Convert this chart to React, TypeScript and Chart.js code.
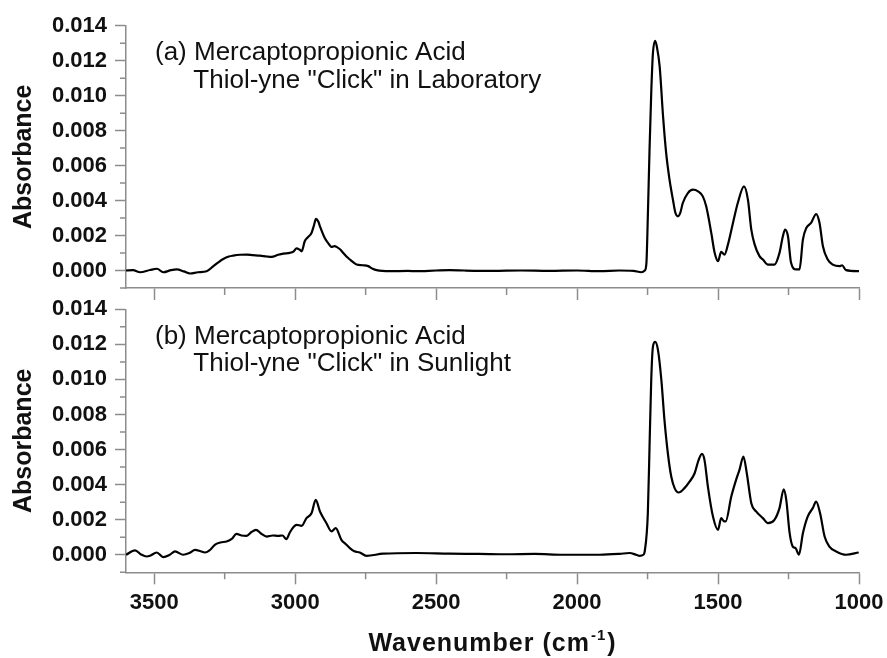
import React, { useEffect, useRef } from 'react';
import { Chart, registerables } from 'chart.js';

Chart.register(...registerables);

// ---------- data ----------
const WN_A = [
  3600, 3575, 3550, 3515, 3490, 3468, 3440, 3420, 3395, 3373, 3345, 3314, 3290, 3270, 3255, 3235, 3220, 3195, 3172, 3150,
  3125, 3100, 3084, 3060, 3042, 3019, 3005, 2995, 2985, 2977, 2966, 2955, 2942, 2933, 2926, 2918, 2912, 2895, 2880, 2871,
  2860, 2853, 2840, 2830, 2818, 2806, 2790, 2782, 2760, 2741, 2725, 2711, 2664, 2600, 2570, 2500, 2452, 2400, 2300, 2200,
  2100, 2000, 1920, 1850, 1800, 1772, 1760, 1754, 1749, 1743, 1737, 1731, 1723, 1717, 1707, 1695, 1684, 1672, 1660, 1651,
  1642, 1634, 1625, 1607, 1589, 1571, 1554, 1542, 1524, 1512, 1500, 1489, 1477, 1465, 1447, 1430, 1408, 1394, 1382, 1370,
  1353, 1341, 1323, 1300, 1282, 1270, 1262, 1252, 1241, 1223, 1211, 1199, 1187, 1170, 1152, 1140, 1128, 1111, 1093, 1069,
  1060, 1046, 1000,
];
const ABS_A = [
  0.0, 0.00002, -0.0001, 0.00003, 0.0001, -0.0001, 0.00002, 0.00006, -0.00005, -0.00017, -0.0001, -0.00004, 0.00025, 0.0005, 0.00066, 0.0008, 0.00085, 0.0009, 0.00091, 0.00088,
  0.00085, 0.0008, 0.00078, 0.0009, 0.00097, 0.00101, 0.0011, 0.00127, 0.0012, 0.0011, 0.00167, 0.0019, 0.00215, 0.0026, 0.00295, 0.0028, 0.00253, 0.00186, 0.0015, 0.00135,
  0.0014, 0.00135, 0.0012, 0.00101, 0.0008, 0.00063, 0.00042, 0.00034, 0.0003, 0.00025, 0.0001, 0.00002, -0.00004, -0.00002, -0.00004, 0.0, 0.00002, 0.0, -0.00002, 0.0,
  -0.00002, 0.0, -0.00004, 0.0, -0.00002, -0.0001, 0.0, 0.00044, 0.0031, 0.0069, 0.01014, 0.01242, 0.01314, 0.0128, 0.01166, 0.00881, 0.00671, 0.00519, 0.00405, 0.00329,
  0.0031, 0.00329, 0.00386, 0.00443, 0.00462, 0.00453, 0.00424, 0.00367, 0.00215, 0.00101, 0.00053, 0.00107, 0.00091, 0.00148, 0.00272, 0.00386, 0.00481, 0.00405, 0.00234, 0.00148,
  0.00082, 0.00063, 0.00034, 0.00034, 0.00101, 0.00196, 0.00234, 0.00196, 0.00044, 0.00006, 0.00006, 0.00177, 0.00243, 0.00272, 0.00323, 0.00272, 0.00139, 0.00063, 0.00034, 0.00025,
  0.0003, 0.00002, -0.00004,
];

const WN_B = [
  3600, 3568, 3545, 3527, 3515, 3491, 3468, 3445, 3426, 3397, 3375, 3355, 3335, 3320, 3300, 3285, 3265, 3243, 3225, 3208,
  3190, 3172, 3155, 3139, 3120, 3101, 3080, 3060, 3045, 3031, 3019, 3005, 2995, 2977, 2960, 2942, 2927, 2912, 2889, 2871,
  2856, 2836, 2820, 2806, 2790, 2771, 2747, 2688, 2570, 2452, 2350, 2250, 2150, 2050, 1950, 1920, 1850, 1814, 1790, 1778,
  1765, 1760, 1749, 1743, 1737, 1731, 1723, 1713, 1701, 1690, 1678, 1666, 1654, 1640, 1619, 1601, 1583, 1569, 1557, 1548,
  1536, 1518, 1500, 1489, 1478, 1473, 1453, 1436, 1424, 1410, 1398, 1382, 1365, 1341, 1323, 1300, 1282, 1267, 1258, 1246,
  1235, 1225, 1213, 1199, 1182, 1164, 1152, 1138, 1122, 1105, 1081, 1046, 1001,
];
const ABS_B = [
  0.0, 0.00025, 0.0, -0.0001, -0.00006, 0.00013, -0.00013, 0.0, 0.00019, 0.0, 0.0001, 0.00028, 0.0002, 0.00013, 0.0003, 0.00057, 0.0007, 0.00076, 0.0009, 0.00119,
  0.0011, 0.00108, 0.0013, 0.00142, 0.0012, 0.00104, 0.0011, 0.00108, 0.0011, 0.00089, 0.00127, 0.0016, 0.00171, 0.00165, 0.00209, 0.00237, 0.00313, 0.00247, 0.0018, 0.00133,
  0.00152, 0.00085, 0.0006, 0.00038, 0.0002, 0.00013, -0.00006, 0.00006, 0.0001, 0.00006, 0.00005, 0.00003, 0.00005, 0.0, 0.0, 0.0, 0.00005, 0.0001, 0.0, -0.00006,
  0.0, 0.0002, 0.00237, 0.00616, 0.00996, 0.01186, 0.01214, 0.01167, 0.00996, 0.00768, 0.00579, 0.00446, 0.0038, 0.00355, 0.0038, 0.00417, 0.00465, 0.0054, 0.00575, 0.0054,
  0.00389, 0.00218, 0.00142, 0.00209, 0.0019, 0.0019, 0.00332, 0.00427, 0.00484, 0.0056, 0.00465, 0.00294, 0.00247, 0.00209, 0.0018, 0.00199, 0.00266, 0.00373, 0.00313, 0.00123,
  0.00047, 0.00038, 0.0, 0.00123, 0.00218, 0.00266, 0.00303, 0.00237, 0.00104, 0.00047, 0.00019, 0.0, 0.00013,
];

const X_TICKS = [3500, 3000, 2500, 2000, 1500, 1000];
const X_MINOR = [3250, 2750, 2250, 1750, 1250];
const Y_TICKS = [0, 0.002, 0.004, 0.006, 0.008, 0.01, 0.012, 0.014];
const Y_MINOR = [-0.001, 0.001, 0.003, 0.005, 0.007, 0.009, 0.011, 0.013];

const LABEL_A = ['(a) Mercaptopropionic Acid', 'Thiol-yne "Click" in Laboratory'];
const LABEL_B = ['(b) Mercaptopropionic Acid', 'Thiol-yne "Click" in Sunlight'];
const Y_TITLE = 'Absorbance';
const X_TITLE_MAIN = 'Wavenumber (cm';
const X_TITLE_SUP = '-1';
const X_TITLE_END = ')';

// ---------- styles ----------
const FAMILY = '"Liberation Sans", Arial, Helvetica, sans-serif';
const AXIS = '#8c8c8c';
const TEXT = '#111111';

const minorTicks = {
  id: 'minorTicks',
  afterDraw(chart: any) {
    const ctx = chart.ctx;
    const xs = chart.scales.x;
    const ys = chart.scales.y;
    ctx.save();
    ctx.strokeStyle = AXIS;
    ctx.lineWidth = 1.5;
    ctx.beginPath();
    for (const v of X_MINOR) {
      const px = xs.getPixelForValue(v);
      ctx.moveTo(px, xs.top);
      ctx.lineTo(px, xs.top + 7);
    }
    for (const v of Y_MINOR) {
      const py = ys.getPixelForValue(v);
      ctx.moveTo(ys.right - 6, py);
      ctx.lineTo(ys.right, py);
    }
    ctx.stroke();
    ctx.restore();
  },
};

const annot = {
  id: 'annot',
  afterDraw(chart: any, _args: any, opts: any) {
    const lines: string[] = opts.lines || [];
    const a = chart.chartArea;
    const ctx = chart.ctx;
    ctx.save();
    ctx.font = `26px ${FAMILY}`;
    ctx.fillStyle = TEXT;
    ctx.textAlign = 'left';
    ctx.textBaseline = 'alphabetic';
    if (lines[0]) ctx.fillText(lines[0], a.left + 29, a.top + 34.5);
    if (lines[1]) ctx.fillText(lines[1], a.left + 67.3, a.top + 62);
    ctx.restore();
  },
};

const xTitle = {
  id: 'xTitle',
  afterDraw(chart: any, _args: any, opts: any) {
    if (!opts.show) return;
    const ctx = chart.ctx;
    const a = chart.chartArea;
    const cx = (a.left + a.right) / 2;
    const base = chart.height - 7;
    ctx.save();
    ctx.fillStyle = TEXT;
    ctx.textBaseline = 'alphabetic';
    ctx.textAlign = 'left';
    const mainFont = `bold 25px ${FAMILY}`;
    const supFont = `bold 15px ${FAMILY}`;
    try { (ctx as any).letterSpacing = '1px'; } catch (e) { /* ignore */ }
    ctx.font = mainFont;
    const w1 = ctx.measureText(X_TITLE_MAIN).width;
    const w3 = ctx.measureText(X_TITLE_END).width;
    ctx.font = supFont;
    const w2 = ctx.measureText(X_TITLE_SUP).width;
    let x = cx - (w1 + w2 + w3 + 2) / 2;
    ctx.font = mainFont;
    ctx.fillText(X_TITLE_MAIN, x, base);
    x += w1 + 1;
    ctx.font = supFont;
    ctx.fillText(X_TITLE_SUP, x, base - 11);
    x += w2 + 1;
    ctx.font = mainFont;
    ctx.fillText(X_TITLE_END, x, base);
    try { (ctx as any).letterSpacing = '0px'; } catch (e) { /* ignore */ }
    ctx.restore();
  },
};

function makeConfig(wn: number[], ab: number[], lines: string[], bottom: boolean): any {
  const tickFont = { family: FAMILY, size: 22, weight: 'bold' as const };
  return {
    type: 'line',
    data: {
      datasets: [
        {
          data: wn.map((w, i) => ({ x: w, y: ab[i] })),
          borderColor: '#000000',
          borderWidth: 2.2,
          pointRadius: 0,
          fill: false,
          cubicInterpolationMode: 'monotone',
        },
      ],
    },
    options: {
      responsive: false,
      animation: false,
      devicePixelRatio: 1,
      layout: { padding: { top: bottom ? 29.3 : 25.7, right: 28, left: 0, bottom: 0 } },
      plugins: {
        legend: { display: false },
        tooltip: { enabled: false },
        annot: { lines },
        xTitle: { show: bottom },
      },
      scales: {
        x: {
          type: 'linear',
          min: 1000,
          max: 3600,
          reverse: true,
          afterBuildTicks: (s: any) => {
            s.ticks = X_TICKS.map((v) => ({ value: v }));
          },
          afterFit: (s: any) => {
            s.height = bottom ? 85.7 : 12;
            s.paddingLeft = 0;
            s.paddingRight = 0;
          },
          grid: { drawOnChartArea: false, drawTicks: true, tickLength: 12, color: AXIS, tickColor: AXIS, tickWidth: 1.5 },
          border: { display: true, color: AXIS, width: 1.5 },
          ticks: {
            display: bottom,
            font: tickFont,
            color: TEXT,
            padding: 5,
            maxRotation: 0,
            autoSkip: false,
            callback: (v: any) => String(v),
          },
        },
        y: {
          type: 'linear',
          min: -0.001,
          max: 0.014,
          afterBuildTicks: (s: any) => {
            s.ticks = Y_TICKS.map((v) => ({ value: v }));
          },
          afterFit: (s: any) => {
            s.width = 126;
            s.paddingTop = 0;
            s.paddingBottom = 0;
          },
          grid: { drawOnChartArea: false, drawTicks: true, tickLength: 11, color: AXIS, tickColor: AXIS, tickWidth: 1.5 },
          border: { display: true, color: AXIS, width: 1.5 },
          ticks: {
            font: tickFont,
            color: TEXT,
            padding: 8,
            autoSkip: false,
            callback: (v: any) => Number(v).toFixed(3),
          },
          title: {
            display: true,
            text: Y_TITLE,
            color: TEXT,
            font: { family: FAMILY, size: 25, weight: 'bold' },
            padding: { top: 9, bottom: 0 },
          },
        },
      },
    },
    plugins: [minorTicks, annot, xTitle],
  };
}

export default function App() {
  const topRef = useRef<HTMLCanvasElement>(null);
  const botRef = useRef<HTMLCanvasElement>(null);

  useEffect(() => {
    const c1 = new Chart(topRef.current as HTMLCanvasElement, makeConfig(WN_A, ABS_A, LABEL_A, false));
    const c2 = new Chart(botRef.current as HTMLCanvasElement, makeConfig(WN_B, ABS_B, LABEL_B, true));
    return () => {
      c1.destroy();
      c2.destroy();
    };
  }, []);

  return (
    <div style={{ position: 'absolute', left: 0, top: 0, width: 887, height: 658, background: '#ffffff', overflow: 'hidden' }}>
      <canvas ref={topRef} width={887} height={300} style={{ position: 'absolute', left: 0, top: 0 }} />
      <canvas ref={botRef} width={887} height={378} style={{ position: 'absolute', left: 0, top: 280 }} />
    </div>
  );
}
